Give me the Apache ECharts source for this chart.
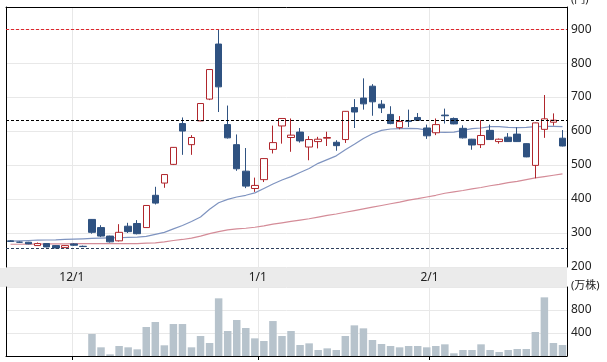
<!DOCTYPE html>
<html>
<head>
<meta charset="utf-8">
<script src="https://cdn.jsdelivr.net/npm/echarts@6/dist/echarts.min.js"></script>
<style>
html,body{margin:0;padding:0;background:#fff;}
#c{width:607px;height:362px;}
</style>
</head>
<body>
<div id="c"></div>
<script>
// trading days (categories)
const dates = ['2019-11-21','2019-11-22','2019-11-25','2019-11-26','2019-11-27','2019-11-28','2019-11-29',
'2019-12-02','2019-12-03','2019-12-04','2019-12-05','2019-12-06','2019-12-09','2019-12-10','2019-12-11',
'2019-12-12','2019-12-13','2019-12-16','2019-12-17','2019-12-18','2019-12-19','2019-12-20','2019-12-23',
'2019-12-24','2019-12-25','2019-12-26','2019-12-27','2019-12-30','2020-01-06','2020-01-07','2020-01-08',
'2020-01-09','2020-01-10','2020-01-14','2020-01-15','2020-01-16','2020-01-17','2020-01-20','2020-01-21',
'2020-01-22','2020-01-23','2020-01-24','2020-01-27','2020-01-28','2020-01-29','2020-01-30','2020-01-31',
'2020-02-03','2020-02-04','2020-02-05','2020-02-06','2020-02-07','2020-02-10','2020-02-12','2020-02-13',
'2020-02-14','2020-02-17','2020-02-18','2020-02-19','2020-02-20','2020-02-21','2020-02-25'];

const open  = [277,273,273,263,269,263,257,268,261,340,316,291,277,320,328,316,411,447,502,622,560,630,694,856,619,560,482,431,457,546,615,581,597,553,569,579,567,575,669,697,732,679,649,610,630,640,609,595,647,637,608,576,560,602,569,582,591,563,499,605,626,579];
const close = [275,273,268,269,259,256,263,264,260,302,291,274,302,304,298,381,388,472,552,600,581,681,781,730,580,489,438,440,519,566,637,588,571,575,576,581,557,658,656,680,686,668,622,628,628,632,586,619,645,621,580,559,587,575,576,569,569,524,624,636,632,556];
const low   = [274,271,267,262,258,255,256,262,259,298,288,272,275,300,296,315,384,433,500,530,530,629,691,656,578,483,432,421,450,534,563,539,566,514,549,556,542,565,609,663,645,653,620,605,612,630,577,588,622,620,578,545,550,574,563,568,568,523,461,580,616,555];
const high  = [279,275,274,272,270,264,264,270,263,341,323,292,326,330,338,382,436,473,553,640,588,682,782,899,675,590,550,463,520,616,638,637,609,585,583,598,573,659,694,755,738,691,673,644,663,653,619,637,666,640,617,577,632,619,578,594,611,564,625,706,652,603];

// moving averages
const maShort = [276,277,278,279,279.5,280,281,282,283,284,285,285.5,286,287,288,290,296,302,312,322,334,347,370,389,399,406,411,418,431,444,456,466,478,490,505,516,527,545,561,578,592,602,606,607,608,607,603,597,596,597,602,607,609,613,613,611,610,611,613,614,614,613];
const maLong  = [267,267,267.5,267.5,268,268,268,268.5,269,269,269,269,269,269,269,270,271,274,278,281,285,291,298,304,309,312,314,317,321,326,330,334,338,342,347,352,356,361,366,371,376,381,386,391,397,401,406,411,417,421,425,430,434,439,443,448,452,457,462,466,470,474];

// volume (万株)
const volume = [0,0,0,0,0,0,0,0,0,383,151,29,174,151,116,504,591,186,556,556,151,348,226,1003,435,626,487,307,261,608,348,435,191,220,104,133,104,348,533,481,278,209,174,151,174,174,151,174,203,47,104,104,203,104,70,104,122,122,417,1020,226,191];

// reference lines
const maxHigh = 899, prevClose = 632, minLow = 255;

// month boundaries (positions in trading-day index units) and labels
const monthPos = [6.78, 27.33, 46.31];
const monthLabels = ['12/1', '1/1', '2/1'];

const priceTicks = {min: 200, max: 965, interval: 100};
const volTicks = {min: 0, max: 1200, interval: 400};

const font = "'Noto Sans', 'Noto Sans CJK JP', sans-serif";
const candleData = dates.map((d, i) => [open[i], close[i], low[i], high[i]]);
const monthName = v => { const k = monthPos.findIndex(p => Math.abs(p - v) < 1e-6); return k >= 0 ? monthLabels[k] : ''; };
const hLine = (value, color) => ({symbol: ['none', 'none'], label: {show: false},
  lineStyle: {color: color, type: [3, 2], width: 1, opacity: 1},
  data: [{yAxis: value}]});

const L = 6, R = 40;
const frameLine = {show: true, onZero: false, lineStyle: {color: '#000', width: 1}};
const chart = echarts.init(document.getElementById('c'), null, {renderer: 'canvas'});
chart.setOption({
  animation: false,
  backgroundColor: '#fff',
  textStyle: {fontFamily: font},
  grid: [
    {left: L, right: R, top: 7, height: 260, show: false, outerBoundsMode: 'none', containLabel: false},
    {left: L, right: R, top: 287, height: 69, show: false, outerBoundsMode: 'none', containLabel: false},
    {left: 0, right: R, top: 268, height: 19, show: true, backgroundColor: '#ebebeb', borderWidth: 0, outerBoundsMode: 'none', containLabel: false}
  ],
  xAxis: [
    {gridIndex: 0, type: 'category', data: dates, boundaryGap: true, show: false},
    {gridIndex: 0, type: 'value', min: -0.5, max: 61.5, position: 'top',
      axisLine: frameLine,
      axisTick: {show: false, customValues: monthPos}, axisLabel: {show: false},
      splitLine: {show: true, lineStyle: {color: '#e8e8e8', width: 1}}},
    {gridIndex: 1, type: 'category', data: dates, boundaryGap: true, show: false},
    {gridIndex: 1, type: 'value', min: -0.5, max: 61.5, position: 'bottom',
      axisLine: frameLine,
      axisTick: {show: true, length: 4, customValues: monthPos, lineStyle: {color: '#000'}},
      axisLabel: {show: false},
      splitLine: {show: true, lineStyle: {color: '#e8e8e8', width: 1}}},
    {gridIndex: 1, type: 'value', min: -0.5, max: 61.5, position: 'top',
      axisLine: {show: false, onZero: false}, axisTick: {show: false, customValues: monthPos},
      axisLabel: {show: true, customValues: monthPos, formatter: monthName, margin: 3,
        fontSize: 12, color: '#222', fontFamily: font},
      splitLine: {show: false}},
    {gridIndex: 2, type: 'value', show: false}
  ],
  yAxis: [
    {gridIndex: 0, type: 'value', position: 'right', min: priceTicks.min, max: priceTicks.max, interval: priceTicks.interval,
      axisLine: frameLine, axisTick: {show: false},
      axisLabel: {showMaxLabel: false, margin: 4, fontSize: 12, color: '#222', fontFamily: font},
      splitLine: {show: true, lineStyle: {color: '#e8e8e8', width: 1}},
      name: '(円)', nameLocation: 'end', nameGap: 2,
      nameTextStyle: {align: 'left', verticalAlign: 'bottom', fontSize: 11, color: '#222', padding: [0, 0, 0, 4], fontFamily: font}},
    {gridIndex: 0, type: 'value', position: 'left', min: priceTicks.min, max: priceTicks.max,
      axisLine: frameLine, axisTick: {show: false},
      axisLabel: {show: false}, splitLine: {show: false}},
    {gridIndex: 1, type: 'value', position: 'right', min: volTicks.min, max: volTicks.max, interval: volTicks.interval,
      axisLine: frameLine, axisTick: {show: false},
      axisLabel: {showMinLabel: false, showMaxLabel: false, margin: 4, fontSize: 12, color: '#222', fontFamily: font},
      splitLine: {show: true, lineStyle: {color: '#e8e8e8', width: 1}},
      name: '(万株)', nameLocation: 'end', nameGap: 1,
      nameTextStyle: {align: 'left', verticalAlign: 'middle', fontSize: 11, color: '#222', padding: [0, 0, 0, 4], fontFamily: font}},
    {gridIndex: 1, type: 'value', position: 'left', min: volTicks.min, max: volTicks.max,
      axisLine: frameLine, axisTick: {show: false},
      axisLabel: {show: false}, splitLine: {show: false}},
    {gridIndex: 2, type: 'value', show: false}
  ],
  series: [
    {type: 'line', xAxisIndex: 0, yAxisIndex: 0, data: maLong, symbol: 'none',
      lineStyle: {color: '#d48c98', width: 1.2}, z: 1,
      markLine: hLine(maxHigh, '#e0262c')},
    {type: 'line', xAxisIndex: 0, yAxisIndex: 0, data: maShort, symbol: 'none',
      lineStyle: {color: '#7f94c0', width: 1.2}, z: 1,
      markLine: hLine(prevClose, '#000000')},
    {type: 'candlestick', xAxisIndex: 0, yAxisIndex: 0, data: candleData, barWidth: 7,
      itemStyle: {color: '#ffffff', color0: '#2f5281', borderColor: '#b0262c', borderColor0: '#2f5281', borderWidth: 1},
      z: 3,
      markLine: hLine(minLow, '#2d3f5c')},
    {type: 'bar', xAxisIndex: 2, yAxisIndex: 2, data: volume, barWidth: 7.5,
      itemStyle: {color: '#b7c3cc'}, silent: true}
  ]
});
</script>
</body>
</html>
